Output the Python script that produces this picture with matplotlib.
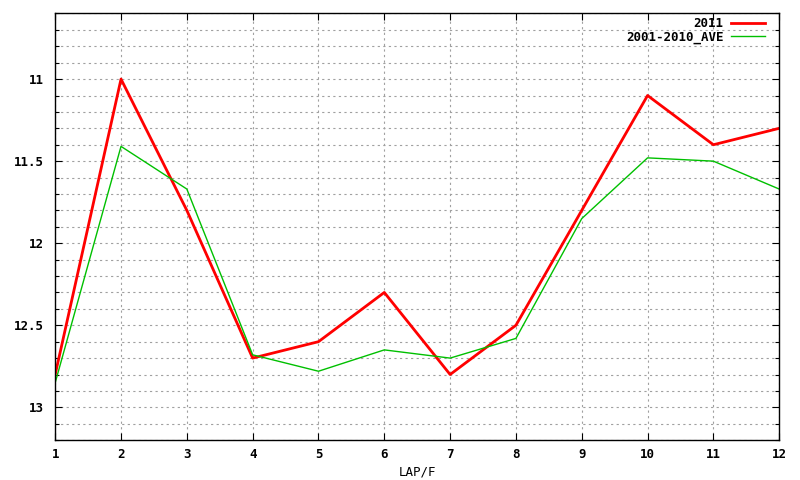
import matplotlib
matplotlib.use("Agg")
import matplotlib.pyplot as plt
import numpy as np
from matplotlib.ticker import MultipleLocator, FormatStrFormatter

laps = [1, 2, 3, 4, 5, 6, 7, 8, 9, 10, 11, 12]
y2011 = [12.80, 11.00, 11.80, 12.70, 12.60, 12.30, 12.80, 12.50, 11.80, 11.10, 11.40, 11.30]
ave = [12.85, 11.41, 11.67, 12.68, 12.78, 12.65, 12.70, 12.58, 11.85, 11.48, 11.50, 11.67]

plt.rcParams['font.family'] = ['DejaVu Sans Mono']
plt.rcParams['font.weight'] = 'bold'
plt.rcParams['font.size'] = 9

fig = plt.figure(figsize=(8, 4.8), dpi=100)
ax = fig.add_axes([0.069, 0.083, 0.905, 0.889])

ax.plot(laps, y2011, color='#ff0000', lw=2.0, label='2011')
ax.plot(laps, ave, color='#00c000', lw=1.0, label='2001-2010_AVE')

ax.set_xlim(1, 12)
ax.set_ylim(13.2, 10.6)
ax.xaxis.set_major_locator(MultipleLocator(1))
ax.yaxis.set_major_locator(MultipleLocator(0.5))
ax.yaxis.set_minor_locator(MultipleLocator(0.1))
ax.yaxis.set_major_formatter(FormatStrFormatter('%g'))

ax.grid(True, which='major', axis='x', color='#a0a0a0', ls=(0, (2, 3)), lw=0.8)
ax.grid(True, which='both', axis='y', color='#a0a0a0', ls=(0, (2, 3)), lw=0.8)

ax.tick_params(which='both', direction='in', top=True, right=True, length=5, width=0.8)
ax.tick_params(which='minor', length=3)
ax.tick_params(axis='x', pad=6)
ax.tick_params(axis='y', pad=8)
for s in ax.spines.values():
    s.set_linewidth(1.0)

ax.set_xlabel('LAP/F', labelpad=3)

ax.legend(loc='upper right', frameon=False, markerfirst=False, handlelength=2.7,
          borderaxespad=0.3, borderpad=0.0, labelspacing=0.0, handletextpad=0.6,
          bbox_to_anchor=(0.985, 1.0))

fig.savefig('out.png', dpi=100)
